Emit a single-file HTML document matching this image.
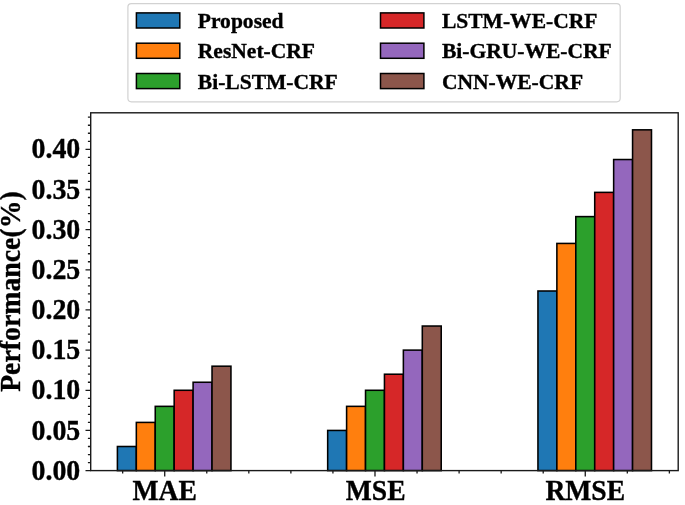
<!DOCTYPE html>
<html><head><meta charset="utf-8"><title>chart</title>
<style>
html,body{margin:0;padding:0;background:#fff;}
body{width:685px;height:505px;overflow:hidden;}
svg text{font-family:"Liberation Serif",serif;font-weight:bold;fill:#000;stroke:#000;stroke-width:0.35px;}
svg{filter:blur(0.6px);}
</style></head><body>
<svg width="685" height="505" viewBox="0 0 685 505" style="display:block">
<rect x="0" y="0" width="685" height="505" fill="#fff"/>
<rect x="117.40" y="446.50" width="18.92" height="24.10" fill="#1f77b4" stroke="#000" stroke-width="1.55"/>
<rect x="136.33" y="422.41" width="18.92" height="48.19" fill="#ff7f0e" stroke="#000" stroke-width="1.55"/>
<rect x="155.25" y="406.35" width="18.92" height="64.25" fill="#2ca02c" stroke="#000" stroke-width="1.55"/>
<rect x="174.18" y="390.28" width="18.92" height="80.32" fill="#d62728" stroke="#000" stroke-width="1.55"/>
<rect x="193.10" y="382.25" width="18.92" height="88.35" fill="#9467bd" stroke="#000" stroke-width="1.55"/>
<rect x="212.03" y="366.19" width="18.92" height="104.41" fill="#8c564b" stroke="#000" stroke-width="1.55"/>
<rect x="327.68" y="430.44" width="18.92" height="40.16" fill="#1f77b4" stroke="#000" stroke-width="1.55"/>
<rect x="346.60" y="406.35" width="18.92" height="64.25" fill="#ff7f0e" stroke="#000" stroke-width="1.55"/>
<rect x="365.53" y="390.28" width="18.92" height="80.32" fill="#2ca02c" stroke="#000" stroke-width="1.55"/>
<rect x="384.45" y="374.22" width="18.92" height="96.38" fill="#d62728" stroke="#000" stroke-width="1.55"/>
<rect x="403.37" y="350.12" width="18.92" height="120.48" fill="#9467bd" stroke="#000" stroke-width="1.55"/>
<rect x="422.30" y="326.03" width="18.92" height="144.57" fill="#8c564b" stroke="#000" stroke-width="1.55"/>
<rect x="537.95" y="291.00" width="18.92" height="179.60" fill="#1f77b4" stroke="#000" stroke-width="1.55"/>
<rect x="556.87" y="243.43" width="18.92" height="227.17" fill="#ff7f0e" stroke="#000" stroke-width="1.55"/>
<rect x="575.80" y="216.61" width="18.92" height="253.99" fill="#2ca02c" stroke="#000" stroke-width="1.55"/>
<rect x="594.72" y="192.37" width="18.92" height="278.23" fill="#d62728" stroke="#000" stroke-width="1.55"/>
<rect x="613.65" y="159.53" width="18.92" height="311.07" fill="#9467bd" stroke="#000" stroke-width="1.55"/>
<rect x="632.57" y="129.84" width="18.92" height="340.76" fill="#8c564b" stroke="#000" stroke-width="1.55"/>
<path d="M90.70 470.60h-5.2 M90.70 462.57h-2.8 M90.70 454.54h-2.8 M90.70 446.50h-2.8 M90.70 438.47h-2.8 M90.70 430.44h-5.2 M90.70 422.41h-2.8 M90.70 414.38h-2.8 M90.70 406.35h-2.8 M90.70 398.31h-2.8 M90.70 390.28h-5.2 M90.70 382.25h-2.8 M90.70 374.22h-2.8 M90.70 366.19h-2.8 M90.70 358.15h-2.8 M90.70 350.12h-5.2 M90.70 342.09h-2.8 M90.70 334.06h-2.8 M90.70 326.03h-2.8 M90.70 318.00h-2.8 M90.70 309.96h-5.2 M90.70 301.93h-2.8 M90.70 293.90h-2.8 M90.70 285.87h-2.8 M90.70 277.84h-2.8 M90.70 269.80h-5.2 M90.70 261.77h-2.8 M90.70 253.74h-2.8 M90.70 245.71h-2.8 M90.70 237.68h-2.8 M90.70 229.64h-5.2 M90.70 221.61h-2.8 M90.70 213.58h-2.8 M90.70 205.55h-2.8 M90.70 197.52h-2.8 M90.70 189.49h-5.2 M90.70 181.45h-2.8 M90.70 173.42h-2.8 M90.70 165.39h-2.8 M90.70 157.36h-2.8 M90.70 149.33h-5.2 M90.70 141.29h-2.8 M90.70 133.26h-2.8 M90.70 125.23h-2.8 M90.70 117.20h-2.8 M122.66 470.60v2.8 M164.72 470.60v5.8 M206.77 470.60v2.8 M248.82 470.60v2.8 M290.88 470.60v2.8 M332.93 470.60v2.8 M374.99 470.60v5.8 M417.04 470.60v2.8 M459.10 470.60v2.8 M501.15 470.60v2.8 M543.21 470.60v2.8 M585.26 470.60v5.8 M627.31 470.60v2.8 M669.37 470.60v2.8" stroke="#1a1a1a" stroke-width="1.3" fill="none"/>
<rect x="90.7" y="112.8" width="587.50" height="357.80" fill="none" stroke="#1a1a1a" stroke-width="1.4"/>
<text transform="translate(80.30 479.70) scale(1.0 1.045)" text-anchor="end" font-size="27.9">0.00</text>
<text transform="translate(80.30 439.54) scale(1.0 1.045)" text-anchor="end" font-size="27.9">0.05</text>
<text transform="translate(80.30 399.38) scale(1.0 1.045)" text-anchor="end" font-size="27.9">0.10</text>
<text transform="translate(80.30 359.22) scale(1.0 1.045)" text-anchor="end" font-size="27.9">0.15</text>
<text transform="translate(80.30 319.06) scale(1.0 1.045)" text-anchor="end" font-size="27.9">0.20</text>
<text transform="translate(80.30 278.90) scale(1.0 1.045)" text-anchor="end" font-size="27.9">0.25</text>
<text transform="translate(80.30 238.74) scale(1.0 1.045)" text-anchor="end" font-size="27.9">0.30</text>
<text transform="translate(80.30 198.59) scale(1.0 1.045)" text-anchor="end" font-size="27.9">0.35</text>
<text transform="translate(80.30 158.43) scale(1.0 1.045)" text-anchor="end" font-size="27.9">0.40</text>
<text transform="translate(164.72 499.60) scale(1.0 1.05)" text-anchor="middle" font-size="27.6">MAE</text>
<text transform="translate(375.69 499.60) scale(1.0 1.05)" text-anchor="middle" font-size="27.6">MSE</text>
<text transform="translate(585.26 499.60) scale(1.0 1.05)" text-anchor="middle" font-size="27.6">RMSE</text>
<text transform="translate(19.80 291.60) rotate(-90) scale(1.0 1.06)" text-anchor="middle" font-size="27.8">Performance(%)</text>
<rect x="127.9" y="3.6" width="492.30" height="98.20" rx="3.5" fill="#fff" stroke="#d2d2d2" stroke-width="1.2"/>
<rect x="136.40" y="12.90" width="43.4" height="15.1" fill="#1f77b4" stroke="#000" stroke-width="1.5"/>
<text transform="translate(197.80 28.10) scale(1.0 1.02)" text-anchor="start" font-size="21.55">Proposed</text>
<rect x="136.40" y="43.20" width="43.4" height="15.1" fill="#ff7f0e" stroke="#000" stroke-width="1.5"/>
<text transform="translate(197.80 58.40) scale(1.0 1.02)" text-anchor="start" font-size="21.55">ResNet-CRF</text>
<rect x="136.40" y="73.50" width="43.4" height="15.1" fill="#2ca02c" stroke="#000" stroke-width="1.5"/>
<text transform="translate(197.80 88.70) scale(1.0 1.02)" text-anchor="start" font-size="21.55">Bi-LSTM-CRF</text>
<rect x="380.50" y="12.90" width="43.4" height="15.1" fill="#d62728" stroke="#000" stroke-width="1.5"/>
<text transform="translate(441.90 28.10) scale(1.0 1.02)" text-anchor="start" font-size="21.55">LSTM-WE-CRF</text>
<rect x="380.50" y="43.20" width="43.4" height="15.1" fill="#9467bd" stroke="#000" stroke-width="1.5"/>
<text transform="translate(441.90 58.40) scale(1.0 1.02)" text-anchor="start" font-size="21.55">Bi-GRU-WE-CRF</text>
<rect x="380.50" y="73.50" width="43.4" height="15.1" fill="#8c564b" stroke="#000" stroke-width="1.5"/>
<text transform="translate(441.90 88.70) scale(1.0 1.02)" text-anchor="start" font-size="21.55">CNN-WE-CRF</text>
</svg>
</body></html>
